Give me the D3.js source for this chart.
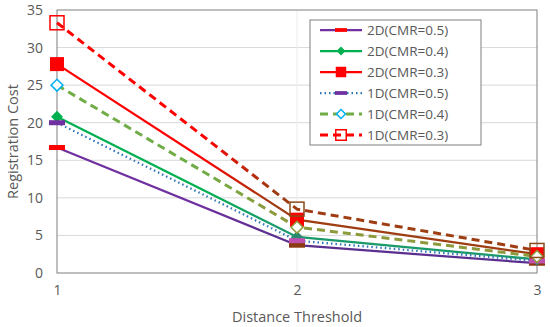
<!DOCTYPE html>
<html>
<head>
<meta charset="utf-8">
<script src="https://cdn.jsdelivr.net/npm/d3@7"></script>
<style>
  body { margin: 0; background: #fff; }
  text { font-family: "Open Sans", "Noto Sans", "Liberation Sans", sans-serif; fill: #595959; }
</style>
</head>
<body>
<svg id="chart"></svg>
<script>
// values
const thresholds = [1, 2, 3];
const seriesNames = ['2D(CMR=0.5)', '2D(CMR=0.4)', '2D(CMR=0.3)', '1D(CMR=0.5)', '1D(CMR=0.4)', '1D(CMR=0.3)'];
const cost2D05 = [16.7, 3.7, 1.3];
const cost2D04 = [20.8, 4.8, 1.8];
const cost2D03 = [27.8, 7.1, 2.5];
const cost1D05 = [20.0, 4.3, 1.6];
const cost1D04 = [25.0, 6.1, 2.2];
const cost1D03 = [33.3, 8.5, 3.0];
const yTicks = [0, 5, 10, 15, 20, 25, 30, 35];

const W = 550, H = 327;
const margin = {top: 10, right: 13, bottom: 54, left: 57};

const svg = d3.select('#chart').attr('width', W).attr('height', H);
const defs = svg.append('defs');

const x = d3.scaleLinear().domain([1, 3]).range([margin.left, W - margin.right]);
const y = d3.scaleLinear().domain([0, 35]).range([H - margin.bottom, margin.top]);

// style per series; colours fade at the far end like the source
const styles = [
  {vals: cost2D05, from: '#7030a0', to: '#5b2f8f', dash: null, width: 2.25, marker: 'bar', mfill: '#ff0000'},
  {vals: cost2D04, from: '#00b050', to: '#1a9a6a', dash: null, width: 2.25, marker: 'diamond', mfill: '#00b050'},
  {vals: cost2D03, from: '#ff0000', to: '#9e3c12', dash: null, width: 2.25, marker: 'square', mfill: '#ff0000'},
  {vals: cost1D05, from: '#2e75b6', to: '#2e75b6', dash: '1.5,3', width: 2.25, marker: 'bar', mfill: '#7030a0'},
  {vals: cost1D04, from: '#70ad47', to: '#8d9a3c', dash: '8,5', width: 3, marker: 'odiamond', mfill: '#00b0f0'},
  {vals: cost1D03, from: '#ff0000', to: '#9e3c12', dash: '8,5', width: 3, marker: 'osquare', mfill: '#ff0000'}
];

// grid
svg.append('g').selectAll('line').data(yTicks.filter(d => d > 0 && d < 35)).enter().append('line')
  .attr('x1', x(1)).attr('x2', x(3)).attr('y1', d => y(d)).attr('y2', d => y(d))
  .attr('stroke', '#d9d9d9').attr('stroke-width', 1);
svg.append('line').attr('x1', x(2)).attr('x2', x(2)).attr('y1', y(0)).attr('y2', y(35))
  .attr('stroke', '#ececec').attr('stroke-width', 1);

// plot border
svg.append('rect').attr('x', x(1)).attr('y', y(35)).attr('width', x(3) - x(1)).attr('height', y(0) - y(35))
  .attr('fill', 'none').attr('stroke', '#7f7f7f').attr('stroke-width', 1);

// axes labels
const yAxis = d3.axisLeft(y).tickValues(yTicks).tickSize(0).tickPadding(14);
const gy = svg.append('g').attr('transform', `translate(${margin.left},0)`).call(yAxis);
gy.select('.domain').remove();
gy.selectAll('text').style('font-size', '14px').style('font-family', '"Open Sans", sans-serif').attr('fill', '#595959');

const xAxis = d3.axisBottom(x).tickValues(thresholds).tickFormat(d3.format('d')).tickSize(0).tickPadding(12);
const gx = svg.append('g').attr('transform', `translate(0,${y(0)})`).call(xAxis);
gx.select('.domain').remove();
gx.selectAll('text').style('font-size', '14px').style('font-family', '"Open Sans", sans-serif').attr('fill', '#595959');

svg.append('text').attr('x', x(2)).attr('y', 322).attr('text-anchor', 'middle')
  .style('font-size', '14.5px').text('Distance Threshold');
svg.append('text').attr('transform', `translate(18,${(y(0) + y(35)) / 2}) rotate(-90)`)
  .attr('text-anchor', 'middle').style('font-size', '14.5px').text('Registration Cost');

// lines
const line = d3.line().x((d, i) => x(thresholds[i])).y(d => y(d));
styles.forEach((s, k) => {
  const id = 'g' + k;
  const g = defs.append('linearGradient').attr('id', id).attr('gradientUnits', 'userSpaceOnUse')
    .attr('x1', x(1)).attr('x2', x(3)).attr('y1', 0).attr('y2', 0);
  g.append('stop').attr('offset', '0%').attr('stop-color', s.from);
  g.append('stop').attr('offset', '30%').attr('stop-color', s.from);
  g.append('stop').attr('offset', '45%').attr('stop-color', s.to);
  g.append('stop').attr('offset', '100%').attr('stop-color', s.to);
  svg.append('path').datum(s.vals).attr('d', line).attr('fill', 'none')
    .attr('stroke', `url(#${id})`).attr('stroke-width', s.width)
    .attr('stroke-dasharray', s.dash);
});

function drawMarker(sel, type, fill, cx, cy, big) {
  const sc = big ? 1 : 0.75;
  if (type === 'bar') {
    sel.append('rect').attr('x', cx - 8 * sc).attr('y', cy - 2.5 * sc).attr('width', 16 * sc).attr('height', 5 * sc).attr('fill', fill);
  } else if (type === 'diamond') {
    sel.append('path').attr('d', d3.symbol(d3.symbolDiamond2, 90 * sc * sc)()).attr('transform', `translate(${cx},${cy})`).attr('fill', fill);
  } else if (type === 'square') {
    sel.append('rect').attr('x', cx - 7 * sc).attr('y', cy - 7 * sc).attr('width', 14 * sc).attr('height', 14 * sc).attr('fill', fill);
  } else if (type === 'odiamond') {
    sel.append('path').attr('d', d3.symbol(d3.symbolDiamond2, 90 * sc * sc)()).attr('transform', `translate(${cx},${cy})`)
      .attr('fill', '#fff').attr('stroke', fill).attr('stroke-width', 1.5);
  } else if (type === 'osquare') {
    sel.append('rect').attr('x', cx - 7 * sc).attr('y', cy - 7 * sc).attr('width', 14 * sc).attr('height', 14 * sc)
      .attr('fill', 'none').attr('stroke', fill).attr('stroke-width', 1.5);
  }
}

// markers in their own colours at x=1, toned at x=2 and x=3
const farFill = ['#8b3a12', '#2a8a70', '#ff0000', '#c050b0', '#8d9a3c', '#8b4a1a'];
styles.forEach((s, k) => {
  s.vals.forEach((v, i) => {
    const f = i === 0 ? s.mfill : farFill[k];
    drawMarker(svg, s.marker, f, x(thresholds[i]), y(v), true);
  });
});

// legend
const lg = svg.append('g').attr('transform', 'translate(310,20)');
lg.append('rect').attr('width', 171).attr('height', 125).attr('fill', '#fff').attr('stroke', '#7f7f7f').attr('stroke-width', 1);
seriesNames.forEach((name, k) => {
  const s = styles[k];
  const ly = 10 + k * 21;
  lg.append('line').attr('x1', 10).attr('x2', 52).attr('y1', ly).attr('y2', ly)
    .attr('stroke', s.from).attr('stroke-width', s.width).attr('stroke-dasharray', s.dash);
  drawMarker(lg, s.marker, s.mfill, 31, ly, false);
  lg.append('text').attr('x', 57).attr('y', ly).attr('dy', '0.35em').style('font-size', '13.5px').text(name);
});
</script>
</body>
</html>
